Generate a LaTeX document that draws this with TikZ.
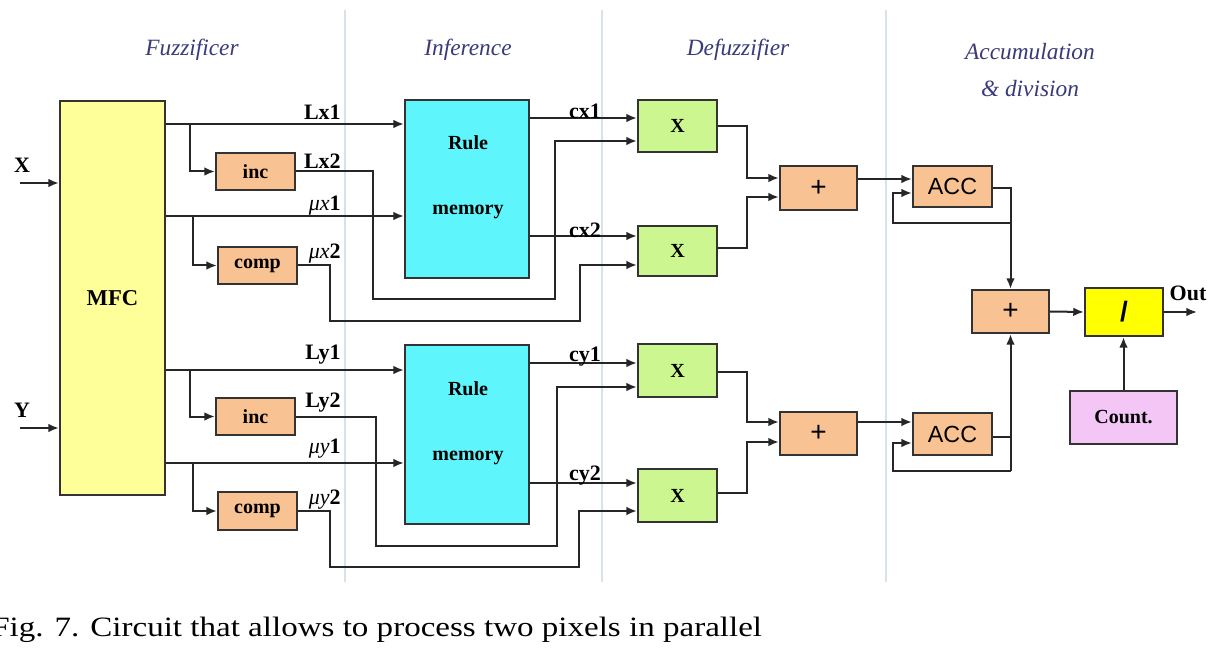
\documentclass[tikz,border=0pt]{standalone}
\usepackage{fontspec}
\setmainfont{Liberation Serif}
\newfontfamily\arialfont{Liberation Sans}
\newfontfamily\capfont[FakeStretch=1.18]{Liberation Serif}
\usetikzlibrary{arrows.meta,fit}

\definecolor{wirec}{HTML}{262626}
\definecolor{edgec}{HTML}{333333}
\definecolor{mfcfill}{HTML}{FFFF99}
\definecolor{rulefill}{HTML}{5EF5FC}
\definecolor{mulfill}{HTML}{CCF790}
\definecolor{orfill}{HTML}{F8C293}
\definecolor{divfill}{HTML}{FFFF00}
\definecolor{cntfill}{HTML}{F3C6F5}
\definecolor{sepc}{HTML}{D3E5E8}
\definecolor{headc}{HTML}{3A3A7A}

\begin{document}
\begin{tikzpicture}[x=0.75pt,y=-0.75pt,
  wire/.style={draw=wirec,line width=1.5pt},
  arr/.style={wire,-{Latex[length=8pt,width=6.5pt]}},
  blk/.style={draw=edgec,line width=1.6pt,inner sep=0pt},
  lbl/.style={font=\fontsize{16.5}{18}\selectfont\bfseries,inner sep=0pt},
  boxtxt/.style={font=\fontsize{15}{17}\selectfont\bfseries,inner sep=0pt},
  sanstxt/.style={font=\arialfont\fontsize{17.5}{19}\selectfont,inner sep=0pt},
  plustxt/.style={font=\arialfont\fontsize{21}{23}\selectfont,inner sep=0pt},
  head/.style={font=\fontsize{17.5}{19}\selectfont\itshape,text=headc,inner sep=0pt},
  sep/.style={draw=sepc,line width=1.2pt}
]
\useasboundingbox (0,0) rectangle (1210,670);
\fill[white] (0,0) rectangle (1210,670);

% stage separators
\draw[sep] (345,10) -- (345,582);
\draw[sep] (602,10) -- (602,582);
\draw[sep] (886,10) -- (886,582);

% stage headings
\node[head] (hfuz) at (192,50) {Fuzzificer};
\node[head] (hinf) at (468,50) {Inference};
\node[head] (hdef) at (738,50) {Defuzzifier};
\node[head] (hacc1) at (1030,52) {Accumulation};
\node[head] (hacc2) at (1030,89) {\& division};

% blocks
\node[blk,fill=mfcfill,fit={(60,101) (165,495)}] (mfc) {};
\node[lbl,font=\fontsize{17}{19}\selectfont\bfseries] (mfct) at (mfc.center) {MFC};

\node[blk,fill=orfill,fit={(216,153) (295,190)}] (incx) {};
\node[boxtxt] at (incx.center) {inc};
\node[blk,fill=orfill,fit={(218,247) (297,284)}] (compx) {};
\node[boxtxt] at (compx.center) {comp};
\node[blk,fill=orfill,fit={(216,398) (295,435)}] (incy) {};
\node[boxtxt] at (incy.center) {inc};
\node[blk,fill=orfill,fit={(218,492) (297,530)}] (compy) {};
\node[boxtxt] at (compy.center) {comp};

\node[blk,fill=rulefill,fit={(405,100) (529,278)}] (rulex) {};
\node[boxtxt] at (468,143) {Rule};
\node[boxtxt] at (468,212) {memory};
\node[blk,fill=rulefill,fit={(405,345) (529,524)}] (ruley) {};
\node[boxtxt] at (468,389) {Rule};
\node[boxtxt] at (468,458) {memory};

\node[blk,fill=mulfill,fit={(638,100) (717,152)}] (mx1) {};
\node[boxtxt] at (mx1.center) {X};
\node[blk,fill=mulfill,fit={(638,226) (717,276)}] (mx2) {};
\node[boxtxt] at (mx2.center) {X};
\node[blk,fill=mulfill,fit={(638,344) (717,397)}] (my1) {};
\node[boxtxt] at (my1.center) {X};
\node[blk,fill=mulfill,fit={(638,469) (717,522)}] (my2) {};
\node[boxtxt] at (my2.center) {X};

\node[blk,fill=orfill,fit={(780,166) (857,210)}] (addx) {};
\node[plustxt] at (addx.center) {+};
\node[blk,fill=orfill,fit={(780,412) (857,455)}] (addy) {};
\node[plustxt] at (addy.center) {+};
\node[blk,fill=orfill,fit={(913,166) (992,207)}] (accx) {};
\node[sanstxt] at (accx.center) {ACC};
\node[blk,fill=orfill,fit={(913,413) (992,455)}] (accy) {};
\node[sanstxt] at (accy.center) {ACC};
\node[blk,fill=orfill,fit={(972,290) (1049,333)}] (addo) {};
\node[plustxt] at (addo.center) {+};
\node[blk,fill=divfill,fit={(1085,288) (1163,336)}] (divb) {};
\node[sanstxt,font=\arialfont\bfseries\fontsize{21}{23}\selectfont] at (divb.center) {/};
\node[blk,fill=cntfill,fit={(1070,391) (1177,444)}] (cnt) {};
\node[boxtxt] at (cnt.center) {Count.};

% primary inputs
\node[lbl] (xlab) at (22,165) {X};
\node[lbl] (ylab) at (22,410) {Y};
\coordinate (xin) at (20,183);
\coordinate (yin) at (20,428);
\draw[arr] (xin) -- (mfc.west |- xin);
\draw[arr] (yin) -- (mfc.west |- yin);

% ---- X channel ----
\coordinate (tLx) at (190,124);
\coordinate (tMx) at (193,216);
\draw[arr] (mfc.east |- tLx) -- (rulex.west |- tLx);
\draw[arr] (tLx) |- (incx.west);
\draw[arr] (mfc.east |- tMx) -- (rulex.west |- tMx);
\draw[arr] (tMx) |- (compx.west);
\draw[arr] (incx.east) -| (373,299) -| (555,141) -- (mx1.west |- 0,141);
\draw[arr] (compx.east) -| (330,321) -| (580,265) -- (mx2.west |- 0,265);
\draw[arr] (rulex.east |- 0,118) -- (mx1.west |- 0,118);
\draw[arr] (rulex.east |- 0,236) -- (mx2.west |- 0,236);
\draw[arr] (mx1.east |- 0,126) -| (747,178) -- (addx.west |- 0,178);
\draw[arr] (mx2.east |- 0,248) -| (747,197) -- (addx.west |- 0,197);
\draw[arr] (addx.east |- 0,179) -- (accx.west |- 0,179);
\coordinate (fbx) at (addo.north |- 0,223);
\draw[arr] (accx.east |- 0,188) -| (addo.north);
\draw[arr] (fbx) -| (893,193) -- (accx.west |- 0,193);

\node[lbl,anchor=east] at (341,112) {Lx1};
\node[lbl,anchor=east] at (341,161) {Lx2};
\node[lbl,anchor=east] at (341,206) {{\mdseries\itshape μx}1};
\node[lbl,anchor=east] at (341,254) {{\mdseries\itshape μx}2};
\node[lbl] at (585,111) {cx1};
\node[lbl] at (585,230) {cx2};

% ---- Y channel ----
\coordinate (tLy) at (190,370);
\coordinate (tMy) at (193,463);
\draw[arr] (mfc.east |- tLy) -- (ruley.west |- tLy);
\draw[arr] (tLy) |- (incy.west);
\draw[arr] (mfc.east |- tMy) -- (ruley.west |- tMy);
\draw[arr] (tMy) |- (compy.west);
\draw[arr] (incy.east) -| (376,546) -| (557,387) -- (my1.west |- 0,387);
\draw[arr] (compy.east) -| (330,567) -| (579,511) -- (my2.west |- 0,511);
\draw[arr] (ruley.east |- 0,363) -- (my1.west |- 0,363);
\draw[arr] (ruley.east |- 0,483) -- (my2.west |- 0,483);
\draw[arr] (my1.east |- 0,372) -| (747,422) -- (addy.west |- 0,422);
\draw[arr] (my2.east |- 0,493) -| (747,442) -- (addy.west |- 0,442);
\draw[arr] (addy.east |- 0,422) -- (accy.west |- 0,422);
\coordinate (fby) at (addo.south |- 0,471);
\draw[wire] (accy.east |- 0,437) -- (fby |- 0,437);
\draw[arr] (fby) -- (addo.south);
\draw[arr] (fby) -| (893,443) -- (accy.west |- 0,443);

\node[lbl,anchor=east] at (341,355) {Ly1};
\node[lbl,anchor=east] at (341,403) {Ly2};
\node[lbl,anchor=east] at (341,449) {{\mdseries\itshape μy}1};
\node[lbl,anchor=east] at (341,500) {{\mdseries\itshape μy}2};
\node[lbl] at (585,357) {cy1};
\node[lbl] at (585,476) {cy2};

% ---- output stage ----
\coordinate (outp) at (1197,312);
\draw[arr] (addo.east) -- (divb.west);
\draw[arr] (divb.east |- outp) -- (outp);
\draw[arr] (cnt.north) -- (cnt.north |- divb.south);
\node[lbl] (outl) at (1188,293) {Out};

% caption
\node[anchor=base west,inner sep=0pt,font=\capfont\fontsize{21}{24}\selectfont] (cap) at (-9,636)
  {Fig. 7. Circuit that allows to process two pixels in parallel};
\end{tikzpicture}
\end{document}
